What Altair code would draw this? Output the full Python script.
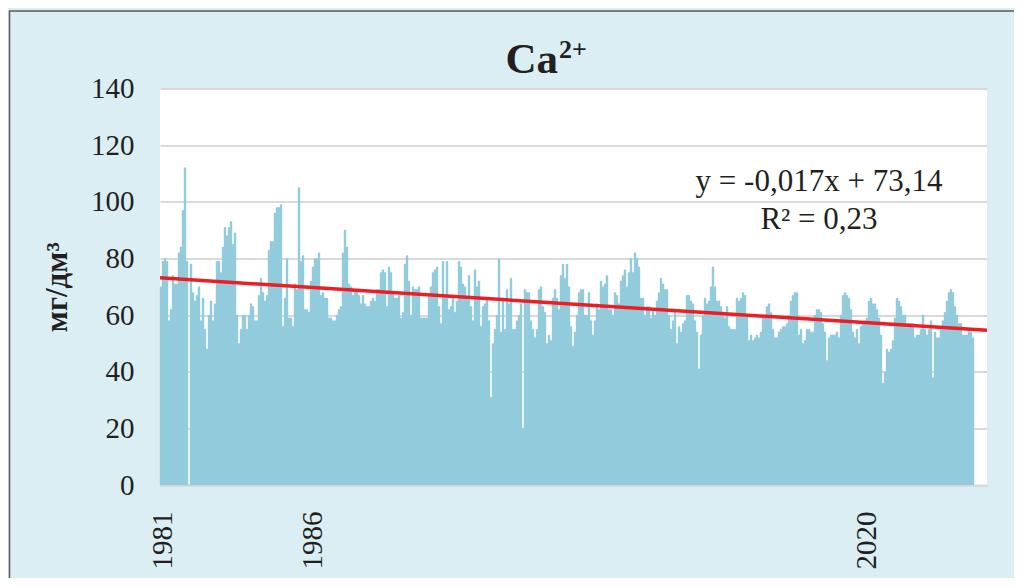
import altair as alt
import pandas as pd

# Ca2+ concentration (one value per ~2 px of the axis)
seg1 = [70, 79, 80, 79, 58, 62, 74, 71, 71, 82,
        84, 97, 112, 79, 0, 78, 68, 65, 67, 70,
        58, 66, 55, 48, 60, 65, 58, 64, 79, 79,
        75, 84, 91, 88, 91, 93, 85, 89, 60, 50,
        55, 60, 60, 55, 60, 64, 63, 58, 58, 67,
        73, 68, 65, 67, 83, 86, 86, 96, 98, 98,
        99, 56, 66, 80, 59, 59, 56, 71, 69, 105,
        79, 81, 62, 62, 61, 72, 77, 80, 80, 82,
        67, 68, 66, 66, 59, 59, 58, 58, 60, 62,
        63, 82, 90, 84, 71, 70, 67, 69, 69, 67,
        64, 67, 64]
seg2 = [63, 63, 65, 66, 65, 69, 69, 75, 76, 75,
        63, 77, 75, 68, 66, 66, 67, 59, 61, 78,
        81, 72, 60, 70, 69, 69, 70, 59, 59, 59,
        59, 67, 70, 75, 76, 77, 63, 57, 79, 66,
        79, 62, 63, 66, 61, 65, 79, 77, 71, 70,
        66, 74, 63, 58, 76, 70, 72, 56, 63, 64,
        66, 58, 31, 50, 55, 60, 80, 54, 66, 55,
        69, 64, 73, 55, 55, 58, 60, 64, 20, 69,
        68, 68, 58, 55, 52, 55, 69, 70, 63, 61,
        50, 53, 51, 66, 69, 66, 62, 74, 78, 73,
        78, 70, 56]
seg3 = [49, 54, 60, 68, 69, 69, 60, 60, 68, 58,
        53, 58, 64, 62, 72, 70, 71, 74, 62, 62,
        60, 68, 67, 64, 72, 74, 76, 70, 75, 80,
        75, 82, 80, 77, 66, 66, 60, 63, 63, 59,
        62, 60, 65, 68, 73, 71, 69, 69, 60, 55,
        58, 62, 50, 56, 54, 57, 58, 67, 67, 65,
        64, 58, 54, 41, 53, 60, 66, 64, 65, 70,
        77, 70, 65, 65, 63, 61, 59, 63, 56, 55,
        55, 55, 66, 65, 66, 68, 67, 60, 51, 53,
        51, 52, 53, 52, 54, 59, 60, 63, 64, 61,
        55, 52]
seg4 = [52, 54, 55, 56, 56, 57, 60, 65, 67, 68,
        68, 53, 55, 50, 51, 55, 55, 54, 54, 60,
        62, 62, 61, 57, 54, 44, 52, 53, 53, 53,
        54, 52, 60, 67, 68, 67, 66, 62, 54, 52,
        55, 50, 56, 57, 58, 59, 65, 66, 64, 64,
        62, 59, 53, 36, 40, 48, 47, 48, 51, 59,
        66, 65, 63, 60, 60, 57, 57, 57, 57, 52,
        53, 53, 55, 60, 55, 53, 55, 58, 38, 54,
        52, 52, 55, 58, 61, 65, 68, 69, 68, 63,
        60, 57, 57, 53, 53, 53, 55, 54, 52]
values = seg1 + seg2 + seg3 + seg4

tick_labels = ["1981", "1986", "2020"]
tick_pos = [1, 76, 353]

slope = -0.017
intercept = 73.14
r2_text = "R² = 0,23"
eq_text = "y = -0,017x + 73,14"
n_obs = 1090          # observations spanned by the category axis
n_axis = 413.5        # axis length in sample units

title_main = "Ca"
title_sup = "2+"
y_title = "мг/дм³"

FONT = "Liberation Serif"
TXT = "#231f20"

df = pd.DataFrame({"i": list(range(len(values))), "v": values})
df["i2"] = df["i"] + 1
df["v0"] = 0

trend = pd.DataFrame({"x": [0, n_axis]})
trend["y"] = intercept + slope * trend["x"] * n_obs / n_axis

x_scale = alt.Scale(domain=[0, n_axis], nice=False, zero=False)
y_scale = alt.Scale(domain=[0, 140], nice=False)

label_expr = " : ".join(f"datum.value == {p} ? '{l}'" for p, l in zip(tick_pos, tick_labels)) + " : ''"

bars = alt.Chart(df).mark_rect(color="#92cddc", stroke="#92cddc", strokeWidth=0.4).encode(
    x=alt.X("i:Q", scale=x_scale,
            axis=alt.Axis(values=tick_pos, labelExpr=label_expr, title=None, grid=False,
                          ticks=False, domainColor="#d9d9d9", domainWidth=2,
                          labelAngle=-90, labelAlign="right", labelBaseline="middle",
                          labelPadding=26, labelFont=FONT, labelFontSize=29,
                          labelColor=TXT, labelOverlap=False)),
    x2="i2:Q",
    y=alt.Y("v:Q", scale=y_scale,
            axis=alt.Axis(values=[0, 20, 40, 60, 80, 100, 120, 140], title=y_title,
                          grid=True, gridColor="#d9d9d9", gridWidth=2, domain=False,
                          ticks=False, labelPadding=26, labelFont=FONT, labelFontSize=29,
                          labelColor=TXT, titleFont=FONT, titleFontSize=31,
                          titleFontWeight="bold", titleColor=TXT, titlePadding=17)),
    y2="v0:Q",
)

line = alt.Chart(trend).mark_line(color="#ee1d23", strokeWidth=3.5).encode(
    x=alt.X("x:Q", scale=x_scale),
    y=alt.Y("y:Q", scale=y_scale),
)

one = pd.DataFrame({"t": [0]})
frame = alt.Chart(one).mark_rect(fill=None, stroke="#595959", strokeWidth=1.5).encode(
    x=alt.value(-150.5), x2=alt.value(900), y=alt.value(-77.5), y2=alt.value(520)
)

t_main = alt.Chart(pd.DataFrame({"t": [title_main]})).mark_text(
    font=FONT, fontSize=43, fontWeight="bold", color=TXT, align="right", baseline="alphabetic"
).encode(x=alt.value(398), y=alt.value(-16), text="t:N")
t_sup = alt.Chart(pd.DataFrame({"t": [title_sup]})).mark_text(
    font=FONT, fontSize=26, fontWeight="bold", color=TXT, align="left", baseline="alphabetic"
).encode(x=alt.value(399), y=alt.value(-31), text="t:N")

eq = alt.Chart(pd.DataFrame({"t": [eq_text]})).mark_text(
    font=FONT, fontSize=31, color=TXT, align="center", baseline="alphabetic"
).encode(x=alt.value(659), y=alt.value(102), text="t:N")
r2 = alt.Chart(pd.DataFrame({"t": [r2_text]})).mark_text(
    font=FONT, fontSize=31, color=TXT, align="center", baseline="alphabetic"
).encode(x=alt.value(659), y=alt.value(140), text="t:N")

chart = alt.layer(bars, line, eq, r2, t_main, t_sup, frame).properties(
    width=827, height=396.5,
    autosize=alt.AutoSizeParams(type="none"),
    padding={"left": 152, "top": 80.5, "right": 27, "bottom": 93},
    background="#daeef3",
).configure_view(stroke=None, fill="white")

chart.save("out.html", embed_options={"renderer": "svg", "actions": False})
